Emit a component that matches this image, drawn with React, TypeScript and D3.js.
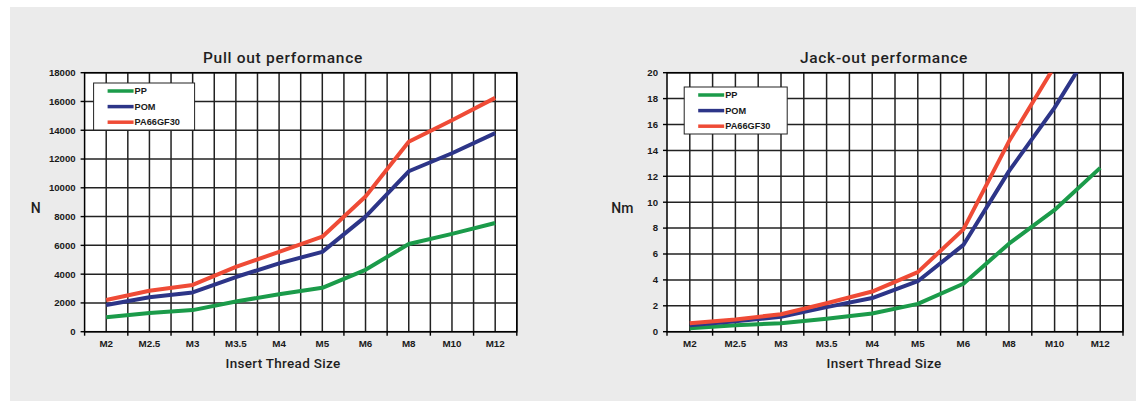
import React from "react";
import * as d3 from "d3";

const categories = ["M2", "M2.5", "M3", "M3.5", "M4", "M5", "M6", "M8", "M10", "M12"];
const seriesNames = ["PP", "POM", "PA66GF30"];
const seriesColors = ["#1b9b4a", "#2d3588", "#ef4b36"];

const pullPP = [1000, 1300, 1500, 2100, 2600, 3050, 4300, 6100, 6800, 7550];
const pullPOM = [1850, 2400, 2730, 3800, 4750, 5550, 8000, 11150, 12400, 13800];
const pullPA = [2200, 2850, 3250, 4500, 5550, 6600, 9400, 13200, 14700, 16250];
const pullTicks = [0, 2000, 4000, 6000, 8000, 10000, 12000, 14000, 16000, 18000];

const jackPP = [0.26, 0.5, 0.65, 1.0, 1.4, 2.15, 3.7, 6.8, 9.4, 12.65];
const jackPOM = [0.5, 0.8, 1.15, 1.9, 2.6, 3.9, 6.7, 12.4, 17.3, 23.0];
const jackPA = [0.65, 0.95, 1.35, 2.2, 3.1, 4.6, 7.9, 14.7, 20.5, 26.0];
const jackTicks = [0, 2, 4, 6, 8, 10, 12, 14, 16, 18, 20];

type PanelProps = {
  id: string;
  title: string;
  yLabel: string;
  series: number[][];
  ticks: number[];
  yMax: number;
  left: number;
  right: number;
  titleX: number;
  yLabelX: number;
  legendX: number;
  legendY: number;
  legendW: number;
};

const TOP = 72.7;
const BOTTOM = 331.7;

function Panel(p: PanelProps) {
  const x = d3.scaleBand<string>().domain(categories).range([p.left, p.right]);
  const y = d3.scaleLinear().domain([0, p.yMax]).range([BOTTOM, TOP]);
  const bw = x.bandwidth();
  const line = d3
    .line<number>()
    .x((_, i) => (x(categories[i]) as number) + bw / 2)
    .y((v) => y(v));
  const vLines: number[] = [];
  categories.forEach((c) => {
    vLines.push((x(c) as number) + bw / 2);
    vLines.push((x(c) as number) + bw);
  });
  const boundaries = [p.left, ...categories.map((c) => (x(c) as number) + bw)];
  const tickFont = "'Liberation Sans', Arial, sans-serif";
  const labelFont = "Roboto, 'DejaVu Sans', sans-serif";
  return (
    <g>
      <defs>
        <clipPath id={p.id + "-clip"}>
          <rect x={p.left} y={TOP} width={p.right - p.left} height={BOTTOM - TOP} />
        </clipPath>
      </defs>
      <rect x={p.left} y={TOP} width={p.right - p.left} height={BOTTOM - TOP} fill="#fff" />
      {p.ticks.map((t) => (
        <line key={"h" + t} x1={p.left} x2={p.right} y1={y(t)} y2={y(t)} stroke="#222" strokeWidth={1.5} />
      ))}
      {vLines.map((v, i) => (
        <line key={"v" + i} x1={v} x2={v} y1={TOP} y2={BOTTOM} stroke="#222" strokeWidth={1.5} />
      ))}
      <rect x={p.left} y={TOP} width={p.right - p.left} height={BOTTOM - TOP} fill="none" stroke="#000" strokeWidth={1.5} />
      {p.ticks.map((t) => (
        <g key={"yt" + t}>
          <line x1={p.left - 4} x2={p.left} y1={y(t)} y2={y(t)} stroke="#000" strokeWidth={1.4} />
          <text x={p.left - 9} y={y(t)} dy="0.35em" textAnchor="end" fontFamily={tickFont} fontWeight="bold" fontSize={9.6} fill="#1a1a1a">
            {t}
          </text>
        </g>
      ))}
      {boundaries.map((b, i) => (
        <line key={"xt" + i} x1={b} x2={b} y1={BOTTOM} y2={BOTTOM + 4} stroke="#000" strokeWidth={1.4} />
      ))}
      {categories.map((c) => (
        <text key={"xl" + c} x={(x(c) as number) + bw / 2} y={347} textAnchor="middle" fontFamily={tickFont} fontWeight="bold" fontSize={9.8} fill="#1a1a1a">
          {c}
        </text>
      ))}
      <g clipPath={`url(#${p.id}-clip)`}>
        {p.series.map((s, i) => (
          <path key={"s" + i} d={line(s) || ""} fill="none" stroke={seriesColors[i]} strokeWidth={4} strokeLinejoin="round" />
        ))}
      </g>
      <rect x={p.legendX} y={p.legendY} width={p.legendW} height={47} fill="#fff" stroke="#222" strokeWidth={1} />
      {seriesNames.map((n, i) => {
        const ly = p.legendY + 8 + i * 15.6;
        return (
          <g key={"lg" + n}>
            <line x1={p.legendX + 14} x2={p.legendX + 40} y1={ly} y2={ly} stroke={seriesColors[i]} strokeWidth={3.5} />
            <text x={p.legendX + 41} y={ly} dy="0.35em" fontFamily={tickFont} fontWeight="bold" fontSize={9.2} fill="#1a1a1a">
              {n}
            </text>
          </g>
        );
      })}
      <text x={p.titleX} y={63} textAnchor="middle" fontFamily={labelFont} fontSize={15.5} fontWeight={500} letterSpacing={0.7} fill="#1f1f1f">
        {p.title}
      </text>
      <text x={p.titleX} y={368} textAnchor="middle" fontFamily={labelFont} fontSize={13.5} fontWeight={500} letterSpacing={0.3} fill="#1f1f1f">
        Insert Thread Size
      </text>
      <text x={p.yLabelX} y={213} textAnchor="middle" fontFamily={labelFont} fontSize={14} fontWeight={500} fill="#1f1f1f">
        {p.yLabel}
      </text>
    </g>
  );
}

export default function App() {
  return (
    <svg width={1136} height={401} style={{ position: "absolute", left: 0, top: 0, display: "block" }}>
      <rect x={0} y={0} width={1136} height={401} fill="#fff" />
      <rect x={10} y={7} width={1126} height={394} fill="#ebebeb" />
      <Panel
        id="pull"
        title="Pull out performance"
        yLabel="N"
        series={[pullPP, pullPOM, pullPA]}
        ticks={pullTicks}
        yMax={18000}
        left={84.6}
        right={516.8}
        titleX={283}
        yLabelX={35.7}
        legendX={93.6}
        legendY={83}
        legendW={101}
      />
      <Panel
        id="jack"
        title="Jack-out performance"
        yLabel="Nm"
        series={[jackPP, jackPOM, jackPA]}
        ticks={jackTicks}
        yMax={20}
        left={667}
        right={1123}
        titleX={884}
        yLabelX={622.4}
        legendX={684.2}
        legendY={87}
        legendW={103}
      />
    </svg>
  );
}
